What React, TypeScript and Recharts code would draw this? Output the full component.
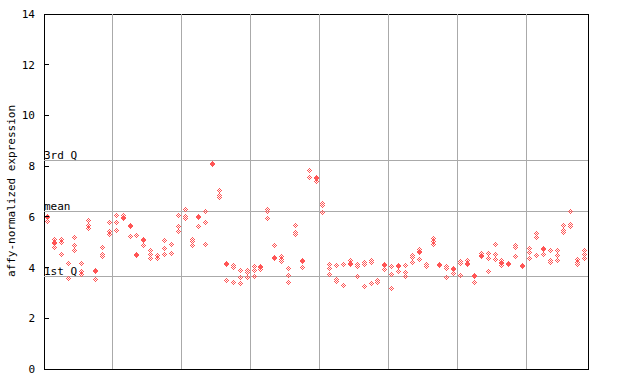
import { ReferenceArea, ReferenceLine, Scatter, ScatterChart, XAxis, YAxis } from 'recharts';

// open (checkered) replicate values, one list per sample, left to right
const openPoints: number[][] = [
  [5.82], [5.09, 4.8], [5.09, 4.98, 4.52], [4.17, 3.58], [5.19, 4.89, 4.69],
  [4.17, 3.84, 3.73], [5.84, 5.64, 5.53], [3.51], [4.8, 4.52, 4.43], [5.78, 5.43, 5.32],
  [6.06, 5.77, 5.47], [6.06], [5.22], [5.27], [4.86],
  [4.69, 4.5, 4.37], [4.46, 4.37], [5.05, 4.76, 4.5], [4.92, 4.56], [6.06, 5.61, 5.41],
  [6.3, 6.03, 5.94], [5.11, 5.02, 4.89], [5.63], [6.22, 5.78, 4.92], [],
  [7.05, 6.85, 6.77], [3.5], [4.09, 3.99, 3.42], [3.89, 3.6, 3.38], [3.89, 3.81, 3.62],
  [4.06, 3.89, 3.65], [3.93], [6.3, 6.22, 5.94], [4.88], [4.43, 4.32, 4.22],
  [3.97, 3.69, 3.42], [5.67, 5.39, 5.3], [4.01], [7.83, 7.56], [7.39],
  [6.53, 6.44, 6.18], [4.13, 3.97, 3.73], [4.09, 3.54, 3.46], [4.13, 3.3], [4.29],
  [4.13, 4.03, 3.65], [4.21, 4.13, 3.26], [4.29, 4.21, 3.38], [3.5, 3.42], [3.93],
  [4.05, 3.73, 3.18], [3.85], [4.09, 3.81, 3.65], [4.48, 4.4, 4.21], [4.72, 4.32],
  [4.13, 4.03], [5.15, 5.03, 4.92], [], [4.05, 3.97, 3.62], [3.77],
  [4.25, 4.17, 3.69], [4.29], [3.42], [4.56], [4.56, 4.36, 3.85],
  [4.92, 4.52, 4.32], [4.29, 4.09], [], [4.88, 4.8, 4.44], [],
  [4.76, 4.6, 4.36], [5.35, 5.19, 4.48], [4.52], [4.68, 4.29, 4.21], [4.68, 4.48, 4.29],
  [5.67, 5.47, 5.39], [6.22, 5.71, 5.63], [4.32, 4.21, 4.13], [4.68, 4.52, 4.36],
];

// overlapping replicates that show as solid diamonds
const solidSamples = [0, 1, 7, 11, 12, 13, 14, 22, 24, 26, 31, 33, 37, 39, 44, 49, 51, 54, 57, 59, 61, 62, 63, 66, 67, 69, 72];
const solidValues = [6.01, 4.98, 3.88, 5.97, 5.64, 4.5, 5.09, 6.0, 8.12, 4.18, 4.03, 4.39, 4.27, 7.54, 4.17, 4.13, 4.09, 4.64, 4.11, 3.97, 4.17, 3.69, 4.48, 4.21, 4.17, 4.09, 4.76];

const quartileValues = [8.21, 6.22, 3.63];
const quartileLabels = ['3rd Q', 'mean', '1st Q'];
const groupBreaks = [9.5, 19.5, 29.5, 39.5, 49.5, 59.5, 69.5];
const yTicks = [0, 2, 4, 6, 8, 10, 12, 14];

const openData = openPoints.flatMap((vals, i) => vals.map((v) => ({ sample: i, value: v })));
const solidData = solidSamples.map((s, i) => ({ sample: s, value: solidValues[i] }));

const RED = '#ff5555';
const GRID = '#aaaaaa';
const FONT = '"DejaVu Sans Mono", monospace';

// checkered 5x5 diamond, like the original bitmap marker
const dots = [
  [0, -2], [-1, -1], [1, -1], [-2, 0], [0, 0], [2, 0], [-1, 1], [1, 1], [0, 2],
];

function pixelDiamond(cx: number, cy: number, key: string | number) {
  const px = Math.floor(cx);
  const py = Math.floor(cy);
  return (
    <g key={key}>
      {dots.map(([dx, dy], k) => (
        <rect key={k} x={px + dx} y={py + dy} width={1} height={1} fill={RED} shapeRendering="crispEdges" />
      ))}
    </g>
  );
}

const OpenDiamond = (props: any) => pixelDiamond(props.cx, props.cy, 'o');

const SolidDiamond = (props: any) => (
  <g>
    {pixelDiamond(props.cx, props.cy, 'a')}
    {pixelDiamond(props.cx, props.cy + 1, 'b')}
  </g>
);

const LeftTick = (props: any) => {
  const { x, y, payload } = props;
  return (
    <g>
      <line x1={x + 9} x2={x + 14} y1={y} y2={y} stroke="#000" shapeRendering="crispEdges" />
      <text x={x} y={y + 4} textAnchor="end" fontFamily={FONT} fontSize={11} fill="#000">
        {payload.value}
      </text>
    </g>
  );
};

const RightTick = (props: any) => {
  const { x, y } = props;
  return <line x1={x - 5} x2={x} y1={y} y2={y} stroke="#000" shapeRendering="crispEdges" />;
};

export default function App() {
  return (
    <div style={{ position: 'absolute', left: 0, top: 0, background: '#fff' }}>
      <ScatterChart width={640} height={384} margin={{ top: 14, right: 40, bottom: 15, left: 8 }}>
        <XAxis type="number" dataKey="sample" domain={[-0.5, 78.5]} hide />
        <YAxis
          type="number"
          dataKey="value"
          domain={[0, 14]}
          ticks={yTicks}
          width={36}
          axisLine={false}
          tickLine={false}
          tickSize={0}
          tickMargin={9}
          tick={<LeftTick />}
          label={{
            content: () => (
              <text x={15} y={191} transform="rotate(-90 15 191)" textAnchor="middle" fontFamily={FONT} fontSize={11} fill="#000">
                affy-normalized expression
              </text>
            ),
          }}
        />
        <YAxis
          yAxisId="right"
          orientation="right"
          type="number"
          domain={[0, 14]}
          ticks={yTicks}
          width={12}
          axisLine={false}
          tickLine={false}
          tickSize={0}
          tickMargin={0}
          tick={<RightTick />}
        />
        {groupBreaks.map((b) => (
          <ReferenceLine key={b} x={b} stroke={GRID} shapeRendering="crispEdges" />
        ))}
        {quartileValues.map((q, i) => (
          <ReferenceLine
            key={q}
            y={q}
            stroke={GRID}
            shapeRendering="crispEdges"
            label={{
              content: (p: any) => (
                <text x={p.viewBox.x} y={p.viewBox.y - 1.5} fontFamily={FONT} fontSize={11} fill="#000">
                  {quartileLabels[i]}
                </text>
              ),
            }}
          />
        ))}
        <ReferenceArea x1={-0.5} x2={78.5} y1={0} y2={14} fill="none" stroke="#000" shapeRendering="crispEdges" />
        <Scatter data={openData} shape={OpenDiamond} isAnimationActive={false} />
        <Scatter data={solidData} shape={SolidDiamond} isAnimationActive={false} />
      </ScatterChart>
    </div>
  );
}
